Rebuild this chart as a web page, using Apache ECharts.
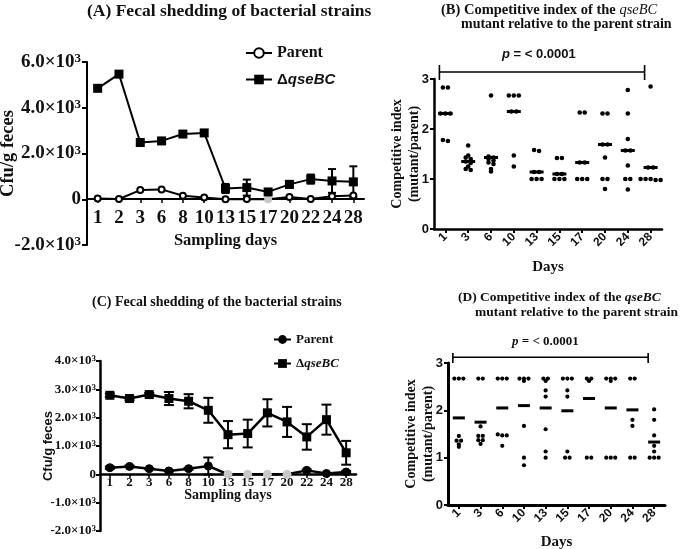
<!DOCTYPE html>
<html><head><meta charset="utf-8">
<script src="https://cdn.jsdelivr.net/npm/echarts@6/dist/echarts.min.js"></script>
<style>html,body{margin:0;padding:0;background:#fff}#c{width:680px;height:549px}</style>
</head><body><div id="c"></div>
<script>
// ---------- data ----------
const daysAC = ['1','2','3','6','8','10','13','15','17','20','22','24','28'];
// Panel A
const parentA    = [30, 10, 400, 430, 150, 75, 0, 10, 0, 100, 10, 130, 160];
const mutantA    = [4850, 5470, 2480, 2550, 2850, 2900, 470, 510, 320, 650, 880, 800, 760];
const mutantErrA = [0, 0, 0, 0, 0, 0, 200, 350, 120, 150, 200, 520, 680];
const grayDaysA  = ['17'];
// Panel C
const parentC    = [235, 280, 200, 120, 200, 295, 0, 0, 0, 0, 140, 30, 80];
const parentErrC = [40, 30, 20, 20, 30, 300, 0, 0, 0, 0, 30, 10, 40];
const mutantC    = [2790, 2675, 2815, 2675, 2580, 2260, 1400, 1440, 2170, 1850, 1320, 1930, 760];
const mutantErrC = [60, 60, 60, 230, 250, 440, 480, 490, 480, 530, 450, 530, 420];
const grayDaysC  = ['13', '15', '17', '20'];
// Panels B and D (competitive index)
const ciDays = ['1','3','6','10','13','15','17','20','24','28'];
const ciB = [
  [2.83, 2.83, 2.31, 2.31, 2.31, 1.78, 1.76],
  [1.67, 1.47, 1.43, 1.40, 1.35, 1.32, 1.25, 1.20, 1.18],
  [2.67, 1.45, 1.43, 1.40, 1.37, 1.33, 1.30, 1.20, 1.15],
  [2.67, 2.67, 2.67, 2.35, 2.35, 1.47, 1.25],
  [1.58, 1.56, 1.14, 1.14, 1.0, 1.0, 1.0],
  [1.42, 1.42, 1.10, 1.10, 1.0, 1.0, 1.0],
  [2.33, 2.33, 1.33, 1.33, 1.0, 1.0, 1.0],
  [2.31, 2.31, 1.69, 1.69, 1.43, 1.0, 1.0, 0.80],
  [2.78, 2.31, 1.80, 1.57, 1.57, 1.27, 1.0, 1.0, 0.79],
  [2.85, 1.23, 1.23, 1.0, 1.0, 1.0, 0.98, 0.98]
];
const medB = [2.31, 1.35, 1.43, 2.35, 1.14, 1.10, 1.33, 1.69, 1.57, 1.23];
const ciD = [
  [2.67, 2.67, 2.67, 1.46, 1.36, 1.36, 1.28, 1.23],
  [2.67, 2.67, 1.66, 1.46, 1.46, 1.37, 1.37, 1.29],
  [2.67, 2.67, 2.67, 1.49, 1.47, 1.47, 1.25],
  [2.67, 2.67, 2.67, 2.62, 1.67, 1.0, 0.84],
  [2.67, 2.67, 2.62, 2.42, 2.29, 1.60, 1.13, 1.0],
  [2.67, 2.67, 2.67, 2.42, 2.29, 1.13, 1.0, 1.0],
  [2.67, 2.67, 2.62, 1.0, 1.0],
  [2.67, 2.67, 2.67, 2.62, 1.0, 1.0, 1.0],
  [2.67, 2.67, 1.80, 1.67, 1.0, 1.0],
  [2.02, 1.80, 1.47, 1.25, 1.13, 1.0, 1.0, 1.0]
];
const medD = [1.84, 1.75, 2.05, 2.10, 2.05, 1.99, 2.25, 2.05, 2.01, 1.33];
const pText = 'p = < 0.0001';

// ---------- helpers ----------
const SERIF = 'Liberation Serif', SANS = 'Liberation Sans', INK = '#111';
const chart = echarts.init(document.getElementById('c'), null, {renderer: 'canvas'});

function sciFmt(v) {
  if (v === 0) return '{b|0}';
  return '{b|' + (v / 1000).toFixed(1) + '×10}{s|3}';
}
function sciRich(fs, ss) {
  return {
    b: {fontFamily: SERIF, fontWeight: 'bold', fontSize: fs, color: INK},
    s: {fontFamily: SERIF, fontWeight: 'bold', fontSize: ss, color: INK, verticalAlign: 'top'}
  };
}
function jitter(cols, tol) {
  const out = [];
  cols.forEach((vals, i) => {
    const s = [...vals].sort((a, b) => b - a);
    let g = [];
    const flush = () => { g.forEach((v, k) => out.push([i, v, k - (g.length - 1) / 2])); g = []; };
    s.forEach(v => { if (g.length && Math.abs(g[0] - v) > tol) flush(); g.push(v); });
    flush();
  });
  return out;
}
function errSeries(xi, yi, vals, errs, cap, lw) {
  return {
    type: 'custom', xAxisIndex: xi, yAxisIndex: yi, clip: false, z: 1,
    data: vals.map((v, i) => [i, v, errs[i]]),
    encode: {x: 0, y: 1},
    renderItem: (params, api) => {
      const x = api.value(0), y = api.value(1), e = api.value(2);
      if (!e) return null;
      const t = api.coord([x, y + e]), b = api.coord([x, y - e]);
      const st = {stroke: '#000', lineWidth: lw};
      return {type: 'group', children: [
        {type: 'line', shape: {x1: t[0], y1: t[1], x2: b[0], y2: b[1]}, style: st},
        {type: 'line', shape: {x1: t[0] - cap, y1: t[1], x2: t[0] + cap, y2: t[1]}, style: st},
        {type: 'line', shape: {x1: b[0] - cap, y1: b[1], x2: b[0] + cap, y2: b[1]}, style: st}
      ]};
    }
  };
}
function dotSeries(xi, yi, cols, spacing, r) {
  return {
    type: 'custom', xAxisIndex: xi, yAxisIndex: yi, clip: false, z: 3,
    data: jitter(cols, 0.04), encode: {x: 0, y: 1},
    renderItem: (params, api) => {
      const p = api.coord([api.value(0), api.value(1)]);
      return {type: 'circle', shape: {cx: p[0] + api.value(2) * spacing, cy: p[1], r: r}, style: {fill: '#000'}};
    }
  };
}
function medSeries(xi, yi, meds, half, h) {
  return {
    type: 'custom', xAxisIndex: xi, yAxisIndex: yi, clip: false, z: 4,
    data: meds.map((m, i) => [i, m]), encode: {x: 0, y: 1},
    renderItem: (params, api) => {
      const p = api.coord([api.value(0), api.value(1)]);
      return {type: 'rect', shape: {x: p[0] - half, y: p[1] - h / 2, width: half * 2, height: h}, style: {fill: '#000'}};
    }
  };
}
function bracketSeries(xi, yi, yLine, yTop, yBot, shift) {
  return {
    type: 'custom', xAxisIndex: xi, yAxisIndex: yi, clip: false, z: 5,
    data: [[0, ciDays.length - 1, yLine, yTop, yBot]],
    renderItem: (params, api) => {
      const a = api.coord([api.value(0), api.value(2)]), b = api.coord([api.value(1), api.value(2)]);
      const at = api.coord([api.value(0), api.value(3)]), ab = api.coord([api.value(0), api.value(4)]);
      const x1 = a[0] + shift, x2 = b[0] + shift;
      const st = {stroke: '#000', lineWidth: 1.6};
      return {type: 'group', children: [
        {type: 'line', shape: {x1: x1, y1: a[1], x2: x2, y2: a[1]}, style: st},
        {type: 'line', shape: {x1: x1, y1: at[1], x2: x1, y2: ab[1]}, style: st},
        {type: 'line', shape: {x1: x2, y1: at[1], x2: x2, y2: ab[1]}, style: st}
      ]};
    }
  };
}
function grayed(vals, days, grays) {
  return vals.map((v, i) => grays.includes(days[i]) ? {value: v, itemStyle: {color: '#c8c8c8', borderColor: '#c8c8c8'}} : v);
}
function axisLine(w, onZero) { return {show: true, onZero: !!onZero, lineStyle: {color: '#000', width: w}}; }
function axisTick(len, w) { return {show: true, length: len, lineStyle: {color: '#000', width: w}}; }

const option = {
  backgroundColor: '#fff',
  animation: false,
  title: [
    {text: '(A) Fecal shedding of bacterial strains', left: 87, top: 2, padding: 0,
     textStyle: {fontFamily: SERIF, fontWeight: 'bold', fontSize: 17.5, color: INK}},
    {text: '(B) Competitive index of the {i|qseBC}', left: 441, top: 3, padding: 0,
     textStyle: {fontFamily: SERIF, fontWeight: 'bold', fontSize: 14.5, color: INK,
       rich: {i: {fontFamily: SERIF, fontStyle: 'italic', fontWeight: 'normal', fontSize: 14.5, color: INK}}}},
    {text: 'mutant relative to the parent strain', left: 461, top: 17, padding: 0,
     textStyle: {fontFamily: SERIF, fontWeight: 'bold', fontSize: 14, color: INK}},
    {text: '(C) Fecal shedding of the bacterial strains', left: 92, top: 295, padding: 0,
     textStyle: {fontFamily: SERIF, fontWeight: 'bold', fontSize: 14, color: INK}},
    {text: '(D) Competitive index of the {i|qseBC}', left: 458, top: 291, padding: 0,
     textStyle: {fontFamily: SERIF, fontWeight: 'bold', fontSize: 13.5, color: INK,
       rich: {i: {fontFamily: SERIF, fontStyle: 'italic', fontWeight: 'bold', fontSize: 13.5, color: INK}}}},
    {text: 'mutant relative to the parent strain', left: 475, top: 306, padding: 0,
     textStyle: {fontFamily: SERIF, fontWeight: 'bold', fontSize: 13.5, color: INK}},
    {text: '{i|p}' + pText.slice(1), left: 502, top: 48, padding: 0,
     textStyle: {fontFamily: SANS, fontWeight: 'bold', fontSize: 13, color: INK,
       rich: {i: {fontFamily: SANS, fontStyle: 'italic', fontWeight: 'bold', fontSize: 13, color: INK}}}},
    {text: '{i|p}' + pText.slice(1), left: 512, top: 335, padding: 0,
     textStyle: {fontFamily: SERIF, fontWeight: 'bold', fontSize: 13, color: INK,
       rich: {i: {fontFamily: SERIF, fontStyle: 'italic', fontWeight: 'bold', fontSize: 13, color: INK}}}}
  ],
  legend: [
    {data: ['Parent', 'ΔqseBC'], orient: 'vertical', left: 245, top: 45, itemWidth: 26, itemHeight: 12, itemGap: 11,
     padding: 0, selectedMode: false,
     formatter: n => n === 'ΔqseBC' ? '{d|Δ}{q|qse}{b|BC}' : n,
     textStyle: {fontFamily: SERIF, fontWeight: 'bold', fontSize: 16, color: INK,
       rich: {d: {fontFamily: SANS, fontSize: 15, color: INK},
              q: {fontFamily: SANS, fontStyle: 'italic', fontSize: 15, color: INK},
              b: {fontFamily: SANS, fontStyle: 'italic', fontWeight: 'bold', fontSize: 15, color: INK}}}},
    {data: ['Parent (C)', 'ΔqseBC (C)'], orient: 'vertical', left: 273, top: 333, itemWidth: 17, itemHeight: 11, itemGap: 11,
     padding: 0, selectedMode: false,
     formatter: n => n === 'ΔqseBC (C)' ? '{d|Δ}{q|qseBC}' : 'Parent',
     textStyle: {fontFamily: SERIF, fontWeight: 'bold', fontSize: 13, color: INK,
       rich: {d: {fontFamily: SERIF, fontSize: 13, color: INK},
              q: {fontFamily: SERIF, fontStyle: 'italic', fontWeight: 'bold', fontSize: 13, color: INK}}}}
  ],
  grid: [
    {left: 87, top: 62, width: 277, height: 183, containLabel: false, outerBoundsMode: 'none'},
    {left: 434, top: 79, width: 228, height: 150, containLabel: false, outerBoundsMode: 'none'},
    {left: 100, top: 361, width: 256, height: 170, containLabel: false, outerBoundsMode: 'none'},
    {left: 448, top: 363, width: 217, height: 142, containLabel: false, outerBoundsMode: 'none'}
  ],
  xAxis: [
    {gridIndex: 0, type: 'category', data: daysAC, position: 'bottom', offset: -46, nameMoveOverlap: false,
     axisLine: axisLine(2), axisTick: Object.assign(axisTick(4, 1.5), {alignWithLabel: true}),
     axisLabel: {interval: 0, margin: 10, fontFamily: SERIF, fontWeight: 'bold', fontSize: 19, color: INK},
     name: 'Sampling days', nameLocation: 'middle', nameGap: 33,
     nameTextStyle: {fontFamily: SERIF, fontWeight: 'bold', fontSize: 16.5, color: INK}},
    {gridIndex: 1, type: 'category', data: ciDays, nameMoveOverlap: false,
     axisLine: axisLine(2.5), axisTick: Object.assign(axisTick(4, 2), {alignWithLabel: true}),
     axisLabel: {interval: 0, rotate: 45, margin: 6, fontFamily: SANS, fontWeight: 'bold', fontSize: 12, color: INK},
     name: 'Days', nameLocation: 'middle', nameGap: 31,
     nameTextStyle: {fontFamily: SERIF, fontWeight: 'bold', fontSize: 15, color: INK}},
    {gridIndex: 2, type: 'category', data: daysAC, position: 'bottom', offset: -57, nameMoveOverlap: false,
     axisLine: axisLine(2.5), axisTick: Object.assign(axisTick(4, 1.5), {alignWithLabel: true}),
     axisLabel: {interval: 0, margin: 2, fontFamily: SERIF, fontWeight: 'bold', fontSize: 13, color: INK},
     name: 'Sampling days', nameLocation: 'middle', nameGap: 14,
     nameTextStyle: {fontFamily: SERIF, fontWeight: 'bold', fontSize: 14, color: INK}},
    {gridIndex: 3, type: 'category', data: ciDays, nameMoveOverlap: false,
     axisLine: axisLine(3), axisTick: Object.assign(axisTick(4, 2), {alignWithLabel: true}),
     axisLabel: {interval: 0, rotate: 45, margin: 6, fontFamily: SANS, fontWeight: 'bold', fontSize: 12, color: INK},
     name: 'Days', nameLocation: 'middle', nameGap: 30,
     nameTextStyle: {fontFamily: SERIF, fontWeight: 'bold', fontSize: 15, color: INK}}
  ],
  yAxis: [
    {gridIndex: 0, type: 'value', min: -2000, max: 6000, interval: 2000, splitLine: {show: false}, nameMoveOverlap: false,
     axisLine: axisLine(2), axisTick: axisTick(5, 2),
     axisLabel: {margin: 6, formatter: sciFmt, rich: sciRich(19, 13)},
     name: 'Cfu/g feces', nameLocation: 'middle', nameGap: 69,
     nameTextStyle: {fontFamily: SERIF, fontWeight: 'bold', fontSize: 18.5, color: INK}},
    {gridIndex: 1, type: 'value', min: 0, max: 3, interval: 1, splitLine: {show: false}, nameMoveOverlap: false,
     axisLine: axisLine(2.5), axisTick: axisTick(4, 2),
     axisLabel: {margin: 5, fontFamily: SANS, fontWeight: 'bold', fontSize: 13, color: INK},
     name: 'Competitive index\n(mutant/parent)', nameLocation: 'middle', nameGap: 11,
     nameTextStyle: {fontFamily: SERIF, fontWeight: 'bold', fontSize: 14, lineHeight: 17, color: INK}},
    {gridIndex: 2, type: 'value', min: -2000, max: 4000, interval: 1000, splitLine: {show: false}, nameMoveOverlap: false,
     axisLine: axisLine(2.5), axisTick: axisTick(4, 2),
     axisLabel: {margin: 4, formatter: sciFmt, rich: sciRich(13, 9)},
     name: 'Cfu/g feces', nameLocation: 'middle', nameGap: 45,
     nameTextStyle: {fontFamily: SANS, fontWeight: 'bold', fontSize: 13, color: INK}},
    {gridIndex: 3, type: 'value', min: 0, max: 3, interval: 1, splitLine: {show: false}, nameMoveOverlap: false,
     axisLine: axisLine(3), axisTick: axisTick(4, 2),
     axisLabel: {margin: 5, fontFamily: SANS, fontWeight: 'bold', fontSize: 13, color: INK},
     name: 'Competitive index\n(mutant/parent)', nameLocation: 'middle', nameGap: 11,
     nameTextStyle: {fontFamily: SERIF, fontWeight: 'bold', fontSize: 14, lineHeight: 17, color: INK}}
  ],
  series: [
    // Panel A
    errSeries(0, 0, mutantA, mutantErrA, 4, 2),
    {name: 'Parent', type: 'line', xAxisIndex: 0, yAxisIndex: 0, data: grayed(parentA, daysAC, grayDaysA),
     symbol: 'circle', symbolSize: 6, showAllSymbol: true, z: 3,
     lineStyle: {color: '#000', width: 2}, itemStyle: {color: '#fff', borderColor: '#000', borderWidth: 2}},
    {name: 'ΔqseBC', type: 'line', xAxisIndex: 0, yAxisIndex: 0, data: mutantA,
     symbol: 'rect', symbolSize: 9, showAllSymbol: true, z: 3,
     lineStyle: {color: '#000', width: 2}, itemStyle: {color: '#000'}},
    // Panel B
    bracketSeries(1, 1, 3.14, 3.28, 2.98, -6),
    dotSeries(1, 1, ciB, 5, 2.3),
    medSeries(1, 1, medB, 7, 3),
    // Panel C
    errSeries(2, 2, mutantC, mutantErrC, 5, 2),
    errSeries(2, 2, parentC, parentErrC, 5, 2),
    {name: 'Parent (C)', type: 'line', xAxisIndex: 2, yAxisIndex: 2, data: grayed(parentC, daysAC, grayDaysC),
     symbol: 'circle', symbolSize: 8, showAllSymbol: true, z: 3,
     lineStyle: {color: '#000', width: 2.5}, itemStyle: {color: '#000', borderColor: '#000'}},
    {name: 'ΔqseBC (C)', type: 'line', xAxisIndex: 2, yAxisIndex: 2, data: mutantC,
     symbol: 'rect', symbolSize: 9, showAllSymbol: true, z: 3,
     lineStyle: {color: '#000', width: 2.5}, itemStyle: {color: '#000'}},
    // Panel D
    bracketSeries(3, 3, 3.12, 3.21, 3.0, -6),
    dotSeries(3, 3, ciD, 4.5, 2.1),
    medSeries(3, 3, medD, 6, 3)
  ]
};
chart.setOption(option);
</script></body></html>
